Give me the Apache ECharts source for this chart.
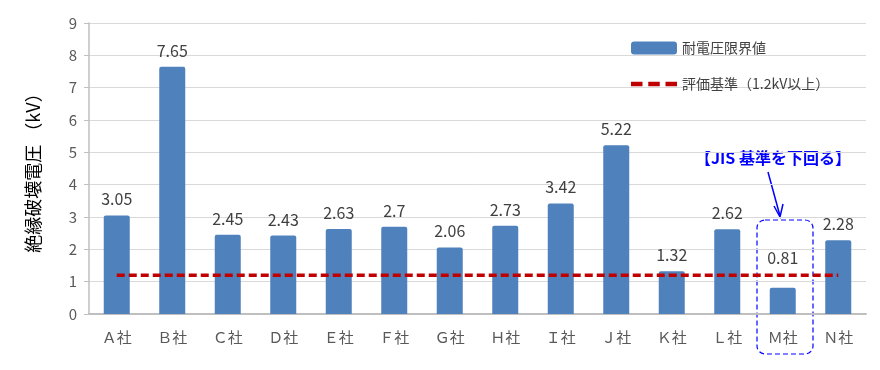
<!DOCTYPE html>
<html><head><meta charset="utf-8">
<script src="https://cdn.jsdelivr.net/npm/echarts@6/dist/echarts.min.js"></script>
<style>html,body{margin:0;padding:0;background:#fff}#c{width:880px;height:370px}</style>
</head><body><div id="c"></div>
<script>
const categories = ['Ａ社','Ｂ社','Ｃ社','Ｄ社','Ｅ社','Ｆ社','Ｇ社','Ｈ社','Ｉ社','Ｊ社','Ｋ社','Ｌ社','Ｍ社','Ｎ社'];
const limitValues = [3.05, 7.65, 2.45, 2.43, 2.63, 2.7, 2.06, 2.73, 3.42, 5.22, 1.32, 2.62, 0.81, 2.28];
const standardValues = [1.2,1.2,1.2,1.2,1.2,1.2,1.2,1.2,1.2,1.2,1.2,1.2,1.2,1.2];
const seriesNames = ['耐電圧限界値','評価基準（1.2kV以上）'];
const yAxisName = '絶縁破壊電圧 （kV）';
const annotationText = '【JIS 基準を下回る】';
const highlightedCategory = 'Ｍ社';

const font = '"Noto Sans CJK JP", "Noto Sans", sans-serif';
const barData = limitValues.map((v, i) =>
  categories[i] === highlightedCategory ? {value: v, label: {distance: 22}} : v);

const chart = echarts.init(document.getElementById('c'));
chart.setOption({
  animation: false,
  textStyle: {fontFamily: font},
  grid: {left: 89, right: 14, top: 23, bottom: 56},
  legend: {
    orient: 'vertical', left: 626, top: 36, itemGap: 22,
    itemWidth: 46, itemHeight: 13,
    textStyle: {fontSize: 14, color: '#404040', fontFamily: font},
    data: [
      {name: seriesNames[0], icon: 'roundRect'},
      {name: seriesNames[1], icon: 'path://M0,0h10v4h-10z M15,0h10v4h-10z M30,0h10v4h-10z',
       itemStyle: {color: '#c00000'}, lineStyle: {opacity: 0, width: 0}}
    ]
  },
  xAxis: {
    type: 'category', data: categories,
    axisLine: {lineStyle: {color: '#bfbfbf', width: 2}},
    axisTick: {show: false},
    axisLabel: {fontSize: 15, color: '#595959', margin: 16, fontFamily: font}
  },
  yAxis: {
    type: 'value', min: 0, max: 9, interval: 1,
    name: yAxisName, nameLocation: 'middle', nameRotate: 90, nameGap: 47,
    nameTextStyle: {fontSize: 18, color: '#000', fontFamily: font},
    axisLine: {show: true, lineStyle: {color: '#bfbfbf', width: 1.5}},
    axisTick: {show: true, inside: false, length: 5, lineStyle: {color: '#bfbfbf'}},
    axisLabel: {fontSize: 15, color: '#595959', margin: 12, fontFamily: font},
    splitLine: {lineStyle: {color: '#d9d9d9', width: 1}}
  },
  series: [
    {
      name: seriesNames[0], type: 'bar', data: barData, barWidth: 26,
      itemStyle: {color: '#4f81bd', borderRadius: [2,2,0,0]},
      label: {show: true, position: 'top', distance: 8, fontSize: 16, color: '#404040', fontFamily: font}
    },
    {
      name: seriesNames[1], type: 'line', data: standardValues, symbol: 'none',
      lineStyle: {color: '#c00000', width: 3.5, type: [8,4]},
      itemStyle: {color: '#c00000'}
    }
  ],
  graphic: [
    {type: 'text', left: 695, top: 150, style: {text: annotationText, fill: '#0000ff', font: 'bold 16px ' + font}},
    {type: 'line', shape: {x1: 768, y1: 172, x2: 780, y2: 216}, style: {stroke: '#0000ff', lineWidth: 1.5}},
    {type: 'polyline', shape: {points: [[774,206],[780,217],[783,204]]}, style: {stroke: '#0000ff', lineWidth: 1.5, fill: null}},
    {type: 'rect', shape: {x: 757, y: 220, width: 56, height: 134, r: 8}, style: {stroke: '#0000ff', lineWidth: 1.2, lineDash: [5,3], fill: null}}
  ]
});
</script></body></html>
